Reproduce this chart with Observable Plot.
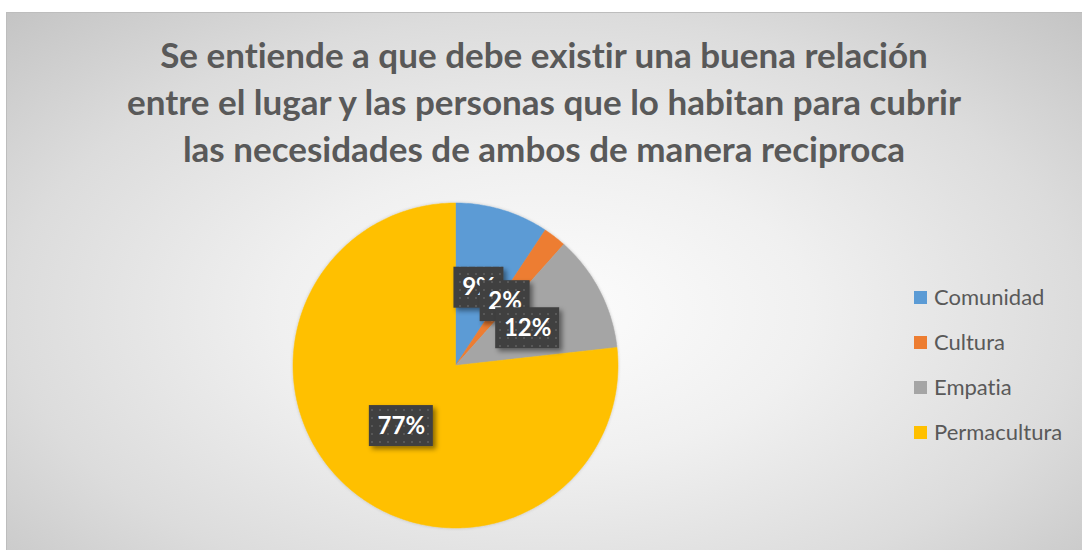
<!DOCTYPE html>
<html>
<head>
<meta charset="utf-8">
<script src="https://cdn.jsdelivr.net/npm/d3@7"></script>
<script src="https://cdn.jsdelivr.net/npm/@observablehq/plot@0.6"></script>
<style>
  html, body { margin: 0; padding: 0; background: #ffffff; width: 1082px; height: 550px; overflow: hidden; font-variant-ligatures: none; font-feature-settings: "liga" 0; }
  #frame {
    position: absolute; left: 6px; top: 12px; width: 1080px; height: 545px;
    border: 1px solid #bdbdbd; box-sizing: border-box;
    background: radial-gradient(ellipse farthest-corner at 50% 55%, #fdfdfd 0%, #f0f0f0 35%, #dcdcdc 70%, #c4c4c4 100%);
  }
  #title {
    position: absolute; left: 6px; top: 31px; width: 1076px; text-align: center;
    font-family: Lato, "Open Sans", sans-serif; font-weight: 700; font-size: 35px; line-height: 47px;
    color: #595959;
  }
  #chart { position: absolute; left: 0px; top: 190px; }
  #legend { position: absolute; left: 914px; top: 283px; font-family: Lato, "Open Sans", sans-serif; font-size: 22px; color: #595959; }
  .item { height: 45px; display: flex; align-items: flex-start; }
  .sw { width: 13px; height: 13px; margin-top: 8px; margin-right: 7px; }
  svg text { font-variant-ligatures: none; }
</style>
</head>
<body>
<div id="frame"></div>
<div id="title"></div>
<div id="chart"></div>
<div id="legend"></div>
<script>
const titleLines = [
  "Se entiende a que debe existir una buena relación",
  "entre el lugar y las personas que lo habitan para cubrir",
  "las necesidades de ambos de manera reciproca"
];
const categories = ["Comunidad", "Cultura", "Empatia", "Permacultura"];
const values = [9.3, 2.3, 11.6, 76.7];
const labels = ["9%", "2%", "12%", "77%"];
const colors = ["#5B9BD5", "#ED7D31", "#A5A5A5", "#FFC000"];

document.getElementById("title").innerHTML = titleLines.join("<br>");

const W = 1082, H = 350, R = 162.5, CX = 455, CY = 175;

const arcs = d3.pie().sort(null).value((d, i) => values[i])(categories);

// polygon points for each slice
const pts = [];
arcs.forEach((a, i) => {
  const cat = categories[i];
  pts.push({cat, x: 0, y: 0});
  const n = Math.max(2, Math.ceil((a.endAngle - a.startAngle) / (Math.PI / 180)));
  for (let k = 0; k <= n; k++) {
    const t = a.startAngle + (a.endAngle - a.startAngle) * k / n;
    pts.push({cat, x: Math.sin(t), y: Math.cos(t)});
  }
  pts.push({cat, x: 0, y: 0});
});

// label anchors at mid angle, half radius
const lab = arcs.map((a, i) => {
  const m = (a.startAngle + a.endAngle) / 2;
  const w = (labels[i].length === 2 ? 50 : 64) / R;
  const h = 41 / R;
  const cx = 0.5 * Math.sin(m), cy = 0.5 * Math.cos(m);
  return {label: labels[i], cx, cy, x1: cx - w / 2, x2: cx + w / 2, y1: cy - h / 2, y2: cy + h / 2};
});

const labelMarks = lab.flatMap(d => [
  Plot.rect([d], {x1: "x1", x2: "x2", y1: "y1", y2: "y2", fill: "#404040"}),
  Plot.text([d], {x: "cx", y: "cy", text: "label", fill: "white", fontSize: 24, fontWeight: 700, fontFamily: "Lato, 'Open Sans', sans-serif"})
]);

const svg = Plot.plot({
  width: W, height: H,
  marginLeft: CX - R, marginRight: W - CX - R,
  marginTop: CY - R, marginBottom: H - CY - R,
  x: {domain: [-1, 1], axis: null},
  y: {domain: [-1, 1], axis: null},
  color: {domain: categories, range: colors},
  style: {background: "transparent", overflow: "visible"},
  marks: [
    Plot.line(pts, {x: "x", y: "y", z: "cat", fill: "cat", stroke: "cat", strokeWidth: 0.5, curve: "linear"}),
    ...labelMarks
  ]
});

// defs: dotted pattern and shadow
const ns = "http://www.w3.org/2000/svg";
const defs = document.createElementNS(ns, "defs");
defs.innerHTML = `
  <pattern id="dots" width="8" height="8" patternUnits="userSpaceOnUse">
    <rect width="8" height="8" fill="#404040"></rect>
    <rect x="3" y="3" width="2" height="2" fill="#595959"></rect>
  </pattern>
  <filter id="shadow" x="-30%" y="-30%" width="160%" height="160%">
    <feDropShadow dx="3" dy="3" stdDeviation="2.5" flood-color="#000" flood-opacity="0.45"></feDropShadow>
  </filter>
  <filter id="pieshadow" x="-10%" y="-10%" width="120%" height="120%">
    <feDropShadow dx="0" dy="0" stdDeviation="1.5" flood-color="#000" flood-opacity="0.2"></feDropShadow>
  </filter>`;
svg.insertBefore(defs, svg.firstChild);
svg.querySelectorAll('g[aria-label="rect"]').forEach(g => {
  g.setAttribute("filter", "url(#shadow)");
  g.querySelectorAll("rect").forEach(r => r.setAttribute("fill", "url(#dots)"));
});
const lineG = svg.querySelector('g[aria-label="line"]');
if (lineG) lineG.setAttribute("filter", "url(#pieshadow)");
document.getElementById("chart").appendChild(svg);

// legend
const leg = document.getElementById("legend");
categories.forEach((c, i) => {
  const it = document.createElement("div");
  it.className = "item";
  it.innerHTML = `<div class="sw" style="background:${colors[i]}"></div><div>${c}</div>`;
  leg.appendChild(it);
});
</script>
</body>
</html>
